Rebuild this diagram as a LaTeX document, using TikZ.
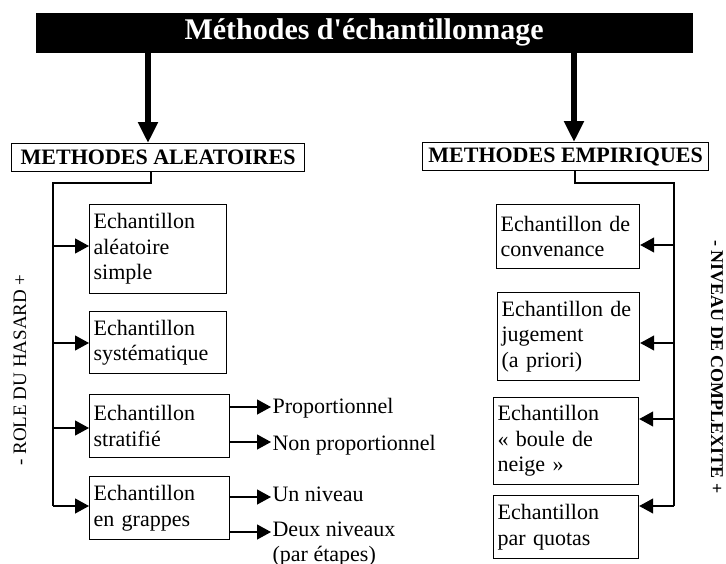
\documentclass[tikz,border=0pt]{standalone}
\usepackage{fontspec}
\setmainfont{Liberation Serif}
\usetikzlibrary{arrows.meta}

\begin{document}
\begin{tikzpicture}[x=1pt, y=-1pt, line width=1.2pt,
  sample/.style={draw, anchor=north west, align=left, inner sep=4pt,
    font=\fontsize{22}{25.5}\selectfont},
  header/.style={draw, anchor=north west, inner sep=0pt,
    font=\bfseries\fontsize{22}{26}\selectfont},
  leaf/.style={anchor=base west, inner sep=1pt, align=left,
    font=\fontsize{22}{25.5}\selectfont},
  tip/.style={-{Triangle[length=14pt,width=15pt]}},
  bigarrow/.style={line width=5.5pt, -{Triangle[length=21pt,width=19pt]}}]
  \useasboundingbox (0,0) rectangle (726,563);

  \node[fill=black, text=white, font=\bfseries\fontsize{30}{34}\selectfont,
    minimum width=657pt, minimum height=40pt, inner sep=0pt, anchor=north west]
    (title) at (35,12) {Méthodes d\textquotesingle échantillonnage};

  \node[header, minimum width=293pt, minimum height=28pt] (alea) at (11,143) {METHODES ALEATOIRES};
  \node[header, minimum width=286pt, minimum height=28pt] (empi) at (422,142) {METHODES EMPIRIQUES};

  \coordinate (lhead) at (148,0);
  \coordinate (rhead) at (574,0);
  \draw[bigarrow] (title.south -| lhead) -- (alea.north -| lhead);
  \draw[bigarrow] (title.south -| rhead) -- (empi.north -| rhead);

  \node[sample, text width=129pt, minimum height=89pt] (al1) at (89,204) {Echantillon\\aléatoire\\simple};
  \node[sample, text width=129pt, minimum height=62pt] (al2) at (89,311) {Echantillon\\systématique};
  \node[sample, text width=132pt, minimum height=63pt] (al3) at (89,394) {Echantillon\\stratifié};
  \node[sample, text width=132pt, minimum height=63pt] (al4) at (89,476) {Echantillon\\en grappes};

  \node[sample, text width=135pt, minimum height=64pt] (em1) at (496,204) {Echantillon de\\convenance};
  \node[sample, text width=134pt, minimum height=88pt] (em2) at (497,292) {Echantillon de\\jugement\\(a priori)};
  \node[sample, text width=137pt, minimum height=87pt] (em3) at (493,397) {Echantillon\\«~boule de\\neige~»};
  \node[sample, text width=137pt, minimum height=63pt] (em4) at (493,495) {Echantillon\\par quotas};

  \node[leaf] (prop) at (271,413) {Proportionnel};
  \node[leaf] (nonprop) at (271,450) {Non proportionnel};
  \node[leaf] (unniv) at (271,501) {Un niveau};
  \node[leaf] (deuxniv) at (271,561.5) {Deux niveaux\\(par étapes)};

  \node[rotate=90, font=\fontsize{19}{22}\selectfont] (hasard) at (20,370) {- ROLE DU HASARD +};
  \node[rotate=-90, font=\bfseries\fontsize{18}{21}\selectfont] (complex) at (717,367) {- NIVEAU DE COMPLEXITE +};

  \coordinate (ldrop) at (151,183);
  \coordinate (lknee) at (53,183);
  \draw (alea.south -| ldrop) -- (ldrop) -- (lknee) -- (lknee |- 0,506);
  \foreach \n/\y in {al1/246, al2/343, al3/428, al4/506}
    \draw[tip] (lknee |- 0,\y) -- (\n.west |- 0,\y);

  \coordinate (rdrop) at (575,183);
  \coordinate (rknee) at (674,183);
  \draw (empi.south -| rdrop) -- (rdrop) -- (rknee) -- (rknee |- 0,506);
  \foreach \n/\y in {em1/245, em2/343, em3/419, em4/506}
    \draw[tip] (rknee |- 0,\y) -- (\n.east |- 0,\y);

  \draw[tip] (al3.east |- 0,407) -- (prop.west |- 0,407);
  \draw[tip] (al3.east |- 0,442) -- (nonprop.west |- 0,442);
  \draw[tip] (al4.east |- 0,497) -- (unniv.west |- 0,497);
  \draw[tip] (al4.east |- 0,532) -- (deuxniv.west |- 0,532);
\end{tikzpicture}
\end{document}
